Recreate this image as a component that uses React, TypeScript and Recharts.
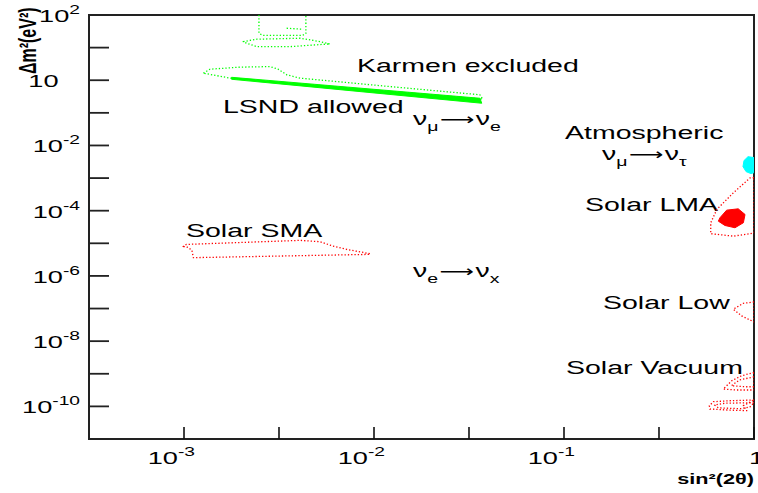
import React from 'react';
import { ScatterChart, Scatter, XAxis, YAxis, ReferenceArea } from 'recharts';

type Pt = [number, number]; // [sin^2(2theta), dm^2 in eV^2]

// axis ranges and ticks
const xMin = 3.162e-4;
const xMax = 1;
const yMin = 1e-11;
const yMax = 1e2;
const xTicks = [1e-3, 3.162e-3, 1e-2, 3.162e-2, 1e-1, 0.3162, 1];
const yTicks = [1e-11, 1e-10, 1e-9, 1e-8, 1e-7, 1e-6, 1e-5, 1e-4, 1e-3, 1e-2, 1e-1, 1, 10, 100];

// nu_mu -> nu_e
const karmenTop: Pt[] = [[2.48e-3, 100], [2.48e-3, 27.5], [2.6e-3, 23.6], [4.2e-3, 23.6], [4.38e-3, 27], [4.38e-3, 100]];
const karmenTick: Pt[] = [[3.47e-3, 39.2], [4.24e-3, 36.6]];
const karmenMid: Pt[] = [
  [2.05e-3, 15.3], [2.42e-3, 18.1], [4.08e-3, 19.4], [5.2e-3, 15.3], [5.86e-3, 13.0],
  [3.61e-3, 10.7], [2.42e-3, 10.7], [2.14e-3, 13.6],
];
const karmenLow: Pt[] = [
  [1.265e-3, 1.648], [1.37e-3, 2.18], [1.97e-3, 2.52], [2.84e-3, 2.62], [3.13e-3, 2.18],
  [3.48e-3, 1.46], [4.08e-3, 1.16], [1.21e-2, 0.64], [3.61e-2, 0.358], [3.73e-2, 0.264], [1.75e-3, 1.16],
];
const lsndAllowed: Pt[] = [[1.78e-3, 1.23], [3.61e-2, 0.28], [3.69e-2, 0.197], [1.78e-3, 1.07]];

// nu_mu -> nu_tau
const atmospheric: Pt[] = [
  [1, 4.24e-3], [0.93, 4.54e-3], [0.886, 3.43e-3], [0.875, 2.25e-3], [0.908, 1.58e-3], [0.964, 1.37e-3], [1, 1.47e-3],
];

// nu_e -> nu_x
const solarSMA: Pt[] = [
  [9.84e-4, 7.87e-6], [1.03e-3, 9.25e-6], [4.08e-3, 1.23e-5], [5.2e-3, 1.12e-5], [6.08e-3, 8.2e-6],
  [7.18e-3, 6.5e-6], [9.53e-3, 4.81e-6], [9.53e-3, 4.58e-6], [1.12e-3, 3.63e-6], [1.1e-3, 6.19e-6], [1.03e-3, 7.87e-6],
];
const solarLMAbest: Pt[] = [
  [0.662, 6.07e-5], [0.718, 1.04e-4], [0.826, 1.14e-4], [0.897, 7.66e-5],
  [0.879, 4.27e-5], [0.794, 3.0e-5], [0.703, 3.52e-5], [0.649, 4.78e-5],
];
const solarLMA: Pt[] = [
  [1, 1.03e-3], [0.953, 1.01e-3], [0.778, 3.52e-4], [0.637, 1.09e-4], [0.592, 4.27e-5],
  [0.592, 1.97e-5], [0.778, 1.66e-5], [0.953, 1.97e-5], [1, 2.11e-5],
];
const solarLow: Pt[] = [[1, 1.59e-7], [0.879, 1.45e-7], [0.778, 9.53e-8], [0.861, 5.94e-8], [1, 3.89e-8]];
const vacuumUpper: Pt[] = [[1, 1.1e-9], [0.861, 8.69e-10], [0.764, 6.11e-10], [0.689, 3.4e-10], [0.811, 3.18e-10], [1, 3.18e-10]];
const vacuumUpperIn: Pt[] = [[1, 8e-10], [0.84, 6.5e-10], [0.76, 4.3e-10], [0.9, 4.0e-10], [1, 4.0e-10]];
const vacuumLower: Pt[] = [
  [1, 1.57e-10], [0.748, 1.49e-10], [0.611, 1.39e-10], [0.582, 1.05e-10], [0.586, 8.3e-11],
  [0.718, 7.76e-11], [0.916, 7.4e-11], [0.879, 1.05e-10], [1, 1.57e-10],
];
const vacuumLowerIn: Pt[] = [[1, 1.3e-10], [0.7, 1.25e-10], [0.62, 1.1e-10], [0.65, 9e-11], [0.85, 8.5e-11], [0.95, 9.5e-11]];

const GREEN = '#00ff00';
const RED = '#ff0000';
const CYAN = '#00ffff';

const regions = [
  { id: 'karmenTop', pts: karmenTop, color: GREEN, filled: false, closed: false },
  { id: 'karmenTick', pts: karmenTick, color: GREEN, filled: false, closed: false },
  { id: 'karmenMid', pts: karmenMid, color: GREEN, filled: false, closed: true },
  { id: 'karmenLow', pts: karmenLow, color: GREEN, filled: false, closed: true },
  { id: 'lsnd', pts: lsndAllowed, color: GREEN, filled: true, closed: true },
  { id: 'atm', pts: atmospheric, color: CYAN, filled: true, closed: true },
  { id: 'sma', pts: solarSMA, color: RED, filled: false, closed: true },
  { id: 'lma', pts: solarLMA, color: RED, filled: false, closed: true },
  { id: 'lmaBest', pts: solarLMAbest, color: RED, filled: true, closed: true },
  { id: 'low', pts: solarLow, color: RED, filled: false, closed: true },
  { id: 'vacU', pts: vacuumUpper, color: RED, filled: false, closed: true },
  { id: 'vacUi', pts: vacuumUpperIn, color: RED, filled: false, closed: false },
  { id: 'vacL', pts: vacuumLower, color: RED, filled: false, closed: true },
  { id: 'vacLi', pts: vacuumLowerIn, color: RED, filled: false, closed: true },
];

const FONT = "'Liberation Sans', Arial, Helvetica, sans-serif";
const SX = 1.5;

const outline = (color: string, filled: boolean, closed: boolean) => (p: any) => {
  const pts = (p.points || []).filter((q: any) => q.x != null && q.y != null);
  if (pts.length < 2) return <g />;
  const d = pts.map((q: any, i: number) => `${i ? 'L' : 'M'}${q.x.toFixed(2)},${q.y.toFixed(2)}`).join(' ') + (closed ? ' Z' : '');
  return (
    <path
      d={d}
      fill={filled ? color : 'none'}
      stroke={color}
      strokeWidth={filled ? 1 : 1.3}
      strokeDasharray={filled ? undefined : '1.3 2'}
      strokeLinejoin="round"
    />
  );
};

const noDot = () => <g />;

const decade = (v: number) => {
  const e = Math.log10(v);
  return Math.abs(e - Math.round(e)) < 1e-6 ? Math.round(e) : null;
};

const YTick = (props: any) => {
  const { x, y, payload } = props;
  const e = decade(payload.value);
  if (e === null || e % 2 !== 0) return <g />;
  if (e === 0) {
    return (
      <text transform={`translate(${x - 21.5},${y + 7}) scale(1.6,1)`} textAnchor="end" fontSize={17} fontFamily={FONT} fill="#000">10</text>
    );
  }
  return (
    <text transform={`translate(${x},${y + 7}) scale(1.6,1)`} textAnchor="end" fontSize={17} fontFamily={FONT} fill="#000">
      10<tspan fontSize={12} dy={-8}>{e}</tspan>
    </text>
  );
};

const XTick = (props: any) => {
  const { x, y, payload } = props;
  const e = decade(payload.value);
  if (e === null) return <g />;
  if (e === 0) {
    return (
      <text transform={`translate(${x - 5},${y + 25}) scale(1.6,1)`} textAnchor="start" fontSize={17} fontFamily={FONT} fill="#000">1</text>
    );
  }
  return (
    <text transform={`translate(${x + 11},${y + 25}) scale(1.6,1)`} textAnchor="end" fontSize={17} fontFamily={FONT} fill="#000">
      10<tspan fontSize={12} dy={-8}>{e}</tspan>
    </text>
  );
};

const Note = ({ x, y, children }: { x: number; y: number; children: React.ReactNode }) => (
  <text transform={`translate(${x},${y}) scale(${SX},1)`} fontSize={19} fontFamily={FONT} fill="#000">
    {children}
  </text>
);

// nu_a -> nu_b with subscripts, long arrow like the original
const Osc = ({ x, y, a, b }: { x: number; y: number; a: string; b: string }) => (
  <Note x={x} y={y}>
    ν<tspan fontSize={13} dy={6}>{a}</tspan>
    <tspan dy={-6} dx={1} fontFamily="'DejaVu Sans', sans-serif" fontSize={16}>⟶</tspan>
    <tspan dx={1}>ν</tspan>
    <tspan fontSize={13} dy={6}>{b}</tspan>
  </Note>
);

const App = () => (
  <div style={{ position: 'absolute', left: 0, top: 0, width: 758, height: 493, background: '#fff' }}>
    <ScatterChart width={758} height={493} margin={{ top: 15, right: 4, bottom: 0, left: 0 }}>
      <XAxis
        type="number"
        dataKey="x"
        scale="log"
        domain={[xMin, xMax]}
        allowDataOverflow
        ticks={xTicks}
        interval={0}
        height={54}
        axisLine={false}
        tickLine={{ stroke: '#111', strokeWidth: 1.6 }}
        tickSize={-12}
        tickMargin={12}
        tick={<XTick />}
      />
      <YAxis
        type="number"
        dataKey="y"
        scale="log"
        domain={[yMin, yMax]}
        allowDataOverflow
        ticks={yTicks}
        interval={0}
        width={89}
        axisLine={false}
        tickLine={{ stroke: '#222', strokeWidth: 1.8 }}
        tickSize={-20}
        tickMargin={29}
        tick={<YTick />}
      />
      {regions.map((r) => (
        <Scatter
          key={r.id}
          name={r.id}
          data={r.pts.map(([x, y]) => ({ x, y }))}
          fill={r.color}
          shape={noDot}
          line={outline(r.color, r.filled, r.closed)}
          lineType="joint"
          isAnimationActive={false}
        />
      ))}
      <ReferenceArea x1={xMin} x2={xMax} y1={yMin} y2={yMax} fill="none" stroke="#222" strokeWidth={2} ifOverflow="visible" />

      <Note x={357} y={72}>Karmen excluded</Note>
      <Note x={223} y={113}>LSND allowed</Note>
      <Osc x={413} y={125} a="μ" b="e" />
      <Note x={565} y={139}>Atmospheric</Note>
      <Osc x={602} y={160} a="μ" b="τ" />
      <Note x={585} y={211}>Solar LMA</Note>
      <Note x={186} y={237}>Solar SMA</Note>
      <Osc x={413} y={277} a="e" b="x" />
      <Note x={603} y={309}>Solar Low</Note>
      <Note x={566} y={374}>Solar Vacuum</Note>

      <text transform="translate(36,74) scale(1.5,1) rotate(-90)" fontSize={16} fontWeight="bold" fontFamily={FONT} fill="#000">
        Δm²(eV²)
      </text>
      <text transform="translate(754,484) scale(1.55,1)" textAnchor="end" fontSize={14} fontWeight="bold" fontFamily={FONT} fill="#000">
        sin²(2θ)
      </text>
    </ScatterChart>
  </div>
);

export default App;
